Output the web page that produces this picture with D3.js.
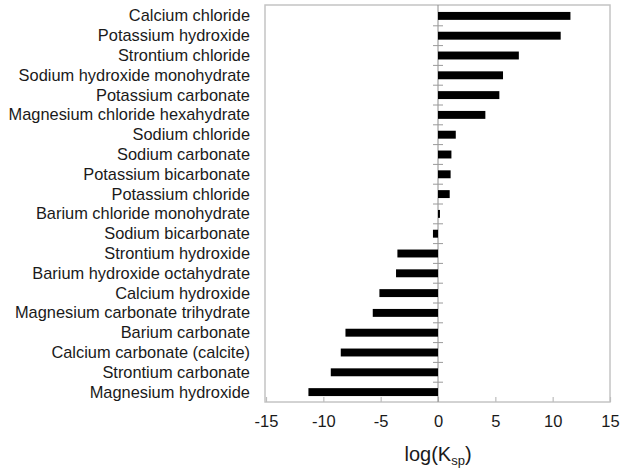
<!DOCTYPE html>
<html>
<head>
<meta charset="utf-8">
<script src="https://cdn.jsdelivr.net/npm/d3@7"></script>
<style>
  html, body { margin: 0; padding: 0; background: #fff; }
  svg { display: block; font-family: "Liberation Sans", Arial, Helvetica, sans-serif; }
</style>
</head>
<body>
<svg id="chart" width="620" height="471"></svg>
<script>
// Salts, ordered top to bottom
const salts = [
  "Calcium chloride",
  "Potassium hydroxide",
  "Strontium chloride",
  "Sodium hydroxide monohydrate",
  "Potassium carbonate",
  "Magnesium chloride hexahydrate",
  "Sodium chloride",
  "Sodium carbonate",
  "Potassium bicarbonate",
  "Potassium chloride",
  "Barium chloride monohydrate",
  "Sodium bicarbonate",
  "Strontium hydroxide",
  "Barium hydroxide octahydrate",
  "Calcium hydroxide",
  "Magnesium carbonate trihydrate",
  "Barium carbonate",
  "Calcium carbonate (calcite)",
  "Strontium carbonate",
  "Magnesium hydroxide"
];

// log10 of the solubility product for each salt
const logKsp = [
  11.55, 10.7, 7.05, 5.67, 5.35, 4.13, 1.55, 1.17, 1.1, 1.02,
  0.17, -0.44, -3.54, -3.66, -5.11, -5.69, -8.07, -8.48, -9.35, -11.3
];

const xTicks = [-15, -10, -5, 0, 5, 10, 15];
const xDomain = [-15, 15];

const svg = d3.select("#chart");
const plotLeft = 266, plotRight = 610, plotTop = 6, plotBottom = 402;

const x = d3.scaleLinear().domain(xDomain).range([plotLeft, plotRight]);
const y = d3.scaleBand().domain(salts).range([plotTop, plotBottom])
  .paddingInner(0.6).paddingOuter(0.3);
const step = y.step();

// plot frame
svg.append("rect")
  .attr("x", plotLeft - 1).attr("y", plotTop - 1)
  .attr("width", plotRight - plotLeft + 1).attr("height", plotBottom - plotTop + 1)
  .attr("fill", "none").attr("stroke", "#c4c4c4").attr("stroke-width", 1.5);

// bottom axis: ticks point inward, no domain line
const xAxis = d3.axisBottom(x).tickValues(xTicks).tickSize(-5).tickPadding(13)
  .tickFormat(d => String(d));
const gx = svg.append("g").attr("transform", `translate(0,${plotBottom})`).call(xAxis);
gx.select(".domain").remove();
gx.selectAll(".tick line").attr("stroke", "#bdbdbd").attr("stroke-width", 1.2);
gx.selectAll(".tick text")
  .attr("font-size", "16.5px")
  .attr("fill", "#1a1a1a");

// vertical zero line with small category separators
svg.append("line")
  .attr("x1", x(0)).attr("x2", x(0))
  .attr("y1", plotTop - 1).attr("y2", plotBottom)
  .attr("stroke", "#8c8c8c").attr("stroke-width", 1);

svg.append("g").selectAll("line")
  .data(salts.slice(1))
  .join("line")
  .attr("x1", x(0) - 5).attr("x2", x(0) + 5)
  .attr("y1", d => y(d) - (step - y.bandwidth()) / 2)
  .attr("y2", d => y(d) - (step - y.bandwidth()) / 2)
  .attr("stroke", "#9a9a9a").attr("stroke-width", 1);

// bars
svg.append("g").selectAll("rect")
  .data(salts)
  .join("rect")
  .attr("x", (d, i) => x(Math.min(0, logKsp[i])))
  .attr("width", (d, i) => Math.abs(x(logKsp[i]) - x(0)))
  .attr("y", d => y(d))
  .attr("height", y.bandwidth())
  .attr("fill", "#000");

// category labels
svg.append("g").selectAll("text")
  .data(salts)
  .join("text")
  .attr("x", 250)
  .attr("y", d => y(d) + y.bandwidth() / 2)
  .attr("dy", "0.34em")
  .attr("text-anchor", "end")
  .attr("font-size", "16.4px")
  .attr("fill", "#1a1a1a")
  .text(d => d);

// axis title with subscript
const title = svg.append("text")
  .attr("x", x(0))
  .attr("y", 461)
  .attr("text-anchor", "middle")
  .attr("font-size", "20px")
  .attr("fill", "#1a1a1a");
title.append("tspan").text("log(K");
title.append("tspan").attr("font-size", "13px").attr("dy", "4").text("sp");
title.append("tspan").attr("dy", "-4").text(")");
</script>
</body>
</html>
